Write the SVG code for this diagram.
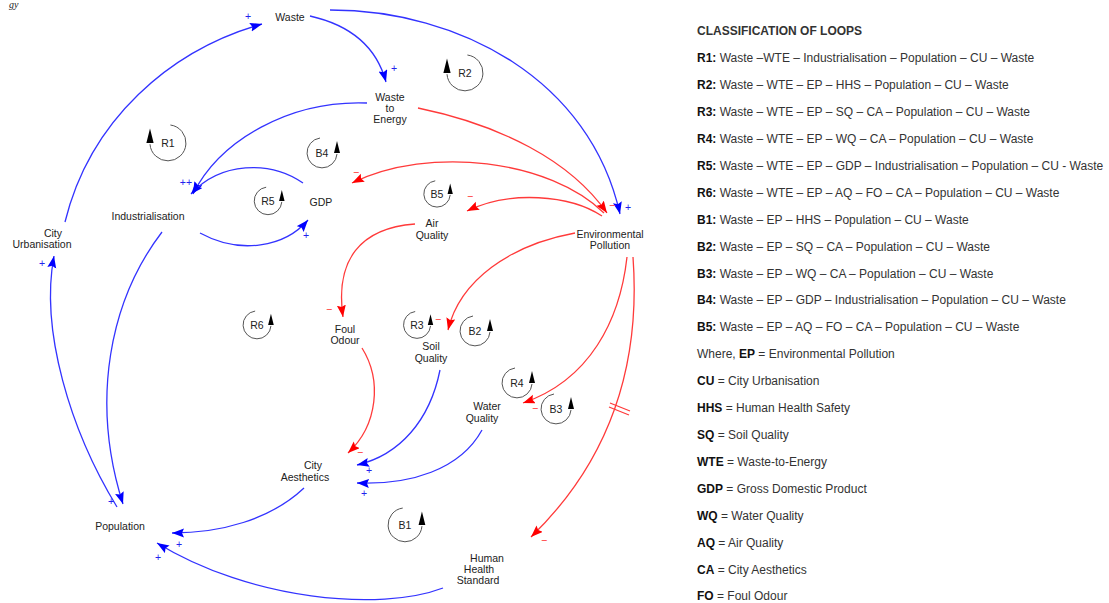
<svg xmlns="http://www.w3.org/2000/svg" xmlns:xlink="http://www.w3.org/1999/xlink" width="1109" height="603" viewBox="0 0 1109 603">
<style>
.n{font-family:"Liberation Sans",Arial,sans-serif;font-size:10.5px;fill:#222;text-anchor:middle}
.lp{font-family:"Liberation Sans",Arial,sans-serif;font-size:10.5px;fill:#222;text-anchor:middle}
.b{fill:none;stroke:#3333ff;stroke-width:1.3}
.r{fill:none;stroke:#ff3a3a;stroke-width:1.3}
.sb{font-family:"Liberation Sans",Arial,sans-serif;font-size:10.5px;fill:#2222ee;text-anchor:middle}
.sr{font-family:"Liberation Sans",Arial,sans-serif;font-size:10.5px;fill:#ff2a2a;text-anchor:middle}
.lg{font-family:"Liberation Sans",Arial,sans-serif;font-size:12px;fill:#333}
.lg tspan.k{font-weight:bold;fill:#111}
.ring{fill:none;stroke:#555;stroke-width:1}
</style>
<defs>
<marker id="ab" markerUnits="userSpaceOnUse" markerWidth="13" markerHeight="10" refX="12" refY="4.5" orient="auto"><path d="M0,0 L12,4.5 L0,9 L2,4.5 z" fill="#0000ff"/></marker>
<marker id="ar" markerUnits="userSpaceOnUse" markerWidth="13" markerHeight="10" refX="12" refY="4.5" orient="auto"><path d="M0,0 L12,4.5 L0,9 L2,4.5 z" fill="#ff0000"/></marker>
<g id="loopL"><path class="ring" d="M2,-15 A15,15 0 1 1 -15,1" vector-effect="non-scaling-stroke"/><path d="M-15,-12 L-18,0 L-12,0 z" fill="#000"/></g>
<g id="loopR"><path class="ring" d="M-2,-15 A15,15 0 1 0 15,1" vector-effect="non-scaling-stroke"/><path d="M15,-12 L12,0 L18,0 z" fill="#000"/></g>
</defs>
<rect width="1109" height="603" fill="#fff"/>
<text x="9" y="8" font-family="Liberation Serif,serif" font-style="italic" font-size="10" fill="#222">gy</text>

<g id="connectors">
<path class="b" d="M310,16 Q372,30 386,82" marker-end="url(#ab)"/>
<path class="b" d="M330,10 C460,10 590,80 620,214" marker-end="url(#ab)"/>
<path class="b" d="M65,222 C90,120 170,50 262,24" marker-end="url(#ab)"/>
<path class="b" d="M117,507 C70,430 40,330 54,256" marker-end="url(#ab)"/>
<path class="b" d="M162,232 C110,300 90,400 123,504" marker-end="url(#ab)"/>
<path class="b" d="M367,103 C290,100 220,140 193,194" marker-end="url(#ab)"/>
<path class="b" d="M303,183 C270,160 220,162 191,194" marker-end="url(#ab)"/>
<path class="b" d="M200,233 C240,255 285,247 308,220" marker-end="url(#ab)"/>
<path class="r" d="M418,108 C500,125 570,160 607,213" marker-end="url(#ar)"/>
<path class="r" d="M604,213 C550,160 430,145 352,183" marker-end="url(#ar)"/>
<path class="r" d="M602,216 C570,195 510,190 467,211" marker-end="url(#ar)"/>
<path class="r" d="M575,233 C510,245 460,280 448,330" marker-end="url(#ar)"/>
<path class="r" d="M415,224 C360,228 335,260 343,317" marker-end="url(#ar)"/>
<path class="r" d="M627,257 C620,320 590,380 523,403" marker-end="url(#ar)"/>
<path class="r" d="M633,257 C642,380 600,470 531,537" marker-end="url(#ar)"/>
<path class="r" d="M610,403 L630,411 M609,407 L629,415"/>
<path class="r" d="M362,348 C382,380 378,425 348,453" marker-end="url(#ar)"/>
<path class="b" d="M440,370 C430,420 400,455 357,465" marker-end="url(#ab)"/>
<path class="b" d="M482,430 C460,470 410,485 357,483" marker-end="url(#ab)"/>
<path class="b" d="M304,488 C270,520 220,533 172,533" marker-end="url(#ab)"/>
<path class="b" d="M443,588 C380,612 250,600 157,543" marker-end="url(#ab)"/>
<text class="sb" x="394" y="72">+</text>
<text class="sb" x="628" y="211">+</text>
<text class="sr" x="612" y="209">−</text>
<text class="sb" x="248" y="20">+</text>
<text class="sb" x="42" y="267">+</text>
<text class="sb" x="111" y="505">+</text>
<text class="sb" x="186" y="186">++</text>
<text class="sb" x="306" y="239">+</text>
<text class="sr" x="356" y="176">−</text>
<text class="sr" x="470" y="200">−</text>
<text class="sr" x="438" y="323">−</text>
<text class="sr" x="329" y="313">−</text>
<text class="sr" x="535" y="412">−</text>
<text class="sr" x="544" y="544">−</text>
<text class="sr" x="360" y="456">−</text>
<text class="sb" x="369" y="474">+</text>
<text class="sb" x="364" y="497">+</text>
<text class="sb" x="179" y="548">+</text>
<text class="sb" x="158" y="561">+</text>
</g>

<g id="waste"><text class="n" x="290" y="21">Waste</text></g>
<g id="wte"><text class="n" x="390" y="101">Waste</text><text class="n" x="390" y="112">to</text><text class="n" x="390" y="123">Energy</text></g>
<g id="industrialisation"><text class="n" x="148" y="220">Industrialisation</text></g>
<g id="gdp"><text class="n" x="321" y="206">GDP</text></g>
<g id="airquality"><text class="n" x="432" y="227">Air</text><text class="n" x="432" y="239">Quality</text></g>
<g id="envpollution"><text class="n" x="610" y="238">Environmental</text><text class="n" x="610" y="249">Pollution</text></g>
<g id="cityurbanisation"><text class="n" x="53" y="237">City</text><text class="n" x="42" y="248">Urbanisation</text></g>
<g id="foulodour"><text class="n" x="345" y="333">Foul</text><text class="n" x="345" y="344">Odour</text></g>
<g id="soilquality"><text class="n" x="431" y="350">Soil</text><text class="n" x="431" y="362">Quality</text></g>
<g id="waterquality"><text class="n" x="487" y="410">Water</text><text class="n" x="482" y="422">Quality</text></g>
<g id="cityaesthetics"><text class="n" x="313" y="469">City</text><text class="n" x="305" y="481">Aesthetics</text></g>
<g id="population"><text class="n" x="120" y="530">Population</text></g>
<g id="hhs"><text class="n" x="487" y="562">Human</text><text class="n" x="479" y="573">Health</text><text class="n" x="478" y="584">Standard</text></g>

<g id="loop-R1"><use xlink:href="#loopL" transform="translate(168,143) scale(1.2)"/><text class="lp" x="168" y="147">R1</text></g>
<g id="loop-R2"><use xlink:href="#loopL" transform="translate(465,73) scale(1.2)"/><text class="lp" x="465" y="77">R2</text></g>
<g id="loop-B4"><use xlink:href="#loopR" transform="translate(322,153)"/><text class="lp" x="322" y="157">B4</text></g>
<g id="loop-R5"><use xlink:href="#loopR" transform="translate(268,201) scale(0.92)"/><text class="lp" x="268" y="205">R5</text></g>
<g id="loop-B5"><use xlink:href="#loopR" transform="translate(437,194) scale(0.88)"/><text class="lp" x="437" y="198">B5</text></g>
<g id="loop-R6"><use xlink:href="#loopR" transform="translate(257,325) scale(0.93)"/><text class="lp" x="257" y="329">R6</text></g>
<g id="loop-R3"><use xlink:href="#loopR" transform="translate(417,325) scale(0.9)"/><text class="lp" x="417" y="329">R3</text></g>
<g id="loop-B2"><use xlink:href="#loopR" transform="translate(475,331)"/><text class="lp" x="475" y="335">B2</text></g>
<g id="loop-R4"><use xlink:href="#loopR" transform="translate(517,383)"/><text class="lp" x="517" y="387">R4</text></g>
<g id="loop-B3"><use xlink:href="#loopR" transform="translate(556,409)"/><text class="lp" x="556" y="413">B3</text></g>
<g id="loop-B1"><use xlink:href="#loopR" transform="translate(405,525) scale(1.13)"/><text class="lp" x="405" y="529">B1</text></g>

<g id="legend">
<text class="lg" x="697" y="35" font-weight="bold" font-size="9.7" fill="#111">CLASSIFICATION OF LOOPS</text>
<text class="lg" x="697" y="62"><tspan class="k">R1:</tspan> Waste –WTE – Industrialisation – Population – CU – Waste</text>
<text class="lg" x="697" y="89"><tspan class="k">R2:</tspan> Waste – WTE – EP – HHS – Population – CU – Waste</text>
<text class="lg" x="697" y="116"><tspan class="k">R3:</tspan> Waste – WTE – EP – SQ – CA – Population – CU – Waste</text>
<text class="lg" x="697" y="143"><tspan class="k">R4:</tspan> Waste – WTE – EP – WQ – CA – Population – CU – Waste</text>
<text class="lg" x="697" y="170"><tspan class="k">R5:</tspan> Waste – WTE – EP – GDP – Industrialisation – Population – CU - Waste</text>
<text class="lg" x="697" y="197"><tspan class="k">R6:</tspan> Waste – WTE – EP – AQ – FO – CA – Population – CU – Waste</text>
<text class="lg" x="697" y="224"><tspan class="k">B1:</tspan> Waste – EP – HHS – Population – CU – Waste</text>
<text class="lg" x="697" y="251"><tspan class="k">B2:</tspan> Waste – EP – SQ – CA – Population – CU – Waste</text>
<text class="lg" x="697" y="278"><tspan class="k">B3:</tspan> Waste – EP – WQ – CA – Population – CU – Waste</text>
<text class="lg" x="697" y="304"><tspan class="k">B4:</tspan> Waste – EP – GDP – Industrialisation – Population – CU – Waste</text>
<text class="lg" x="697" y="331"><tspan class="k">B5:</tspan> Waste – EP – AQ – FO – CA – Population – CU – Waste</text>
<text class="lg" x="697" y="358">Where, <tspan class="k">EP</tspan> = Environmental Pollution</text>
<text class="lg" x="697" y="385"><tspan class="k">CU</tspan> = City Urbanisation</text>
<text class="lg" x="697" y="412"><tspan class="k">HHS</tspan> = Human Health Safety</text>
<text class="lg" x="697" y="439"><tspan class="k">SQ</tspan> = Soil Quality</text>
<text class="lg" x="697" y="466"><tspan class="k">WTE</tspan> = Waste-to-Energy</text>
<text class="lg" x="697" y="493"><tspan class="k">GDP</tspan> = Gross Domestic Product</text>
<text class="lg" x="697" y="520"><tspan class="k">WQ</tspan> = Water Quality</text>
<text class="lg" x="697" y="547"><tspan class="k">AQ</tspan> = Air Quality</text>
<text class="lg" x="697" y="574"><tspan class="k">CA</tspan> = City Aesthetics</text>
<text class="lg" x="697" y="600"><tspan class="k">FO</tspan> = Foul Odour</text>
</g>
</svg>
